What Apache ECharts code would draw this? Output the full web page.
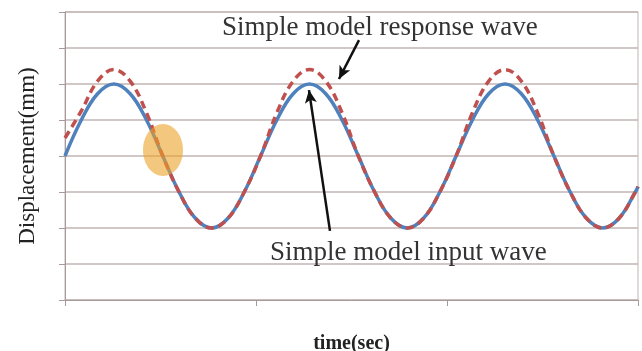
<!DOCTYPE html>
<html>
<head>
<meta charset="utf-8">
<script src="https://cdn.jsdelivr.net/npm/echarts@6/dist/echarts.min.js"></script>
<style>
  html, body { margin: 0; padding: 0; background: #ffffff; }
  #chart { width: 642px; height: 351px; }
</style>
</head>
<body>
<div id="chart"></div>
<script>
// Sample times (sec), one sample every 30 degrees of the 1.2 s cycle
var time = [0, 0.1, 0.2, 0.3, 0.4, 0.5, 0.6, 0.7, 0.8, 0.9, 1.0, 1.1,
            1.2, 1.3, 1.4, 1.5, 1.6, 1.7, 1.8, 1.9, 2.0, 2.1, 2.2, 2.3,
            2.4, 2.5, 2.6, 2.7, 2.8, 2.9, 3.0, 3.1, 3.2, 3.3, 3.4, 3.5, 3.516];

// Input displacement (mm)
var inputWave = [0, 1, 1.73, 2, 1.73, 1, 0, -1, -1.73, -2, -1.73, -1,
                 0, 1, 1.73, 2, 1.73, 1, 0, -1, -1.73, -2, -1.73, -1,
                 0, 1, 1.73, 2, 1.73, 1, 0, -1, -1.73, -2, -1.73, -1, -0.85];

// Response displacement (mm)
var responseWave = [0.5, 1.25, 2.08, 2.4, 2.08, 1.2, 0, -1, -1.73, -2, -1.73, -1,
                    0, 1.2, 2.08, 2.4, 2.08, 1.2, 0, -1, -1.73, -2, -1.73, -1,
                    0, 1.2, 2.08, 2.4, 2.08, 1.2, 0, -1, -1.73, -2, -1.73, -1, -0.85];

var yMin = -4, yMax = 4, yStep = 1;
var xMin = 0, xMax = 3.516, xStep = 1.172;

function pairs(xs, ys) {
  return xs.map(function (x, i) { return [x, ys[i]]; });
}

var chart = echarts.init(document.getElementById('chart'), null, { renderer: 'canvas' });

var serif = '"Liberation Serif", "DejaVu Serif", serif';
var gridColor = '#c3b4b4';
var axisColor = '#a89a9a';

chart.setOption({
  backgroundColor: '#ffffff',
  animation: false,
  grid: {
    left: 65, right: 4, top: 12, bottom: 51,
    containLabel: false,
    outerBoundsMode: 'none',
    show: true, borderColor: gridColor, borderWidth: 1
  },
  xAxis: {
    type: 'value',
    min: xMin, max: xMax, interval: xStep,
    name: 'time(sec)',
    nameLocation: 'middle',
    nameGap: 34,
    nameTextStyle: { fontFamily: serif, fontSize: 20, fontWeight: 'bold', color: '#222' },
    axisLine: { show: true, onZero: false, lineStyle: { color: axisColor, width: 1 } },
    axisTick: { show: true, length: 6, lineStyle: { color: axisColor } },
    axisLabel: { show: false },
    splitLine: { show: false }
  },
  yAxis: {
    type: 'value',
    min: yMin, max: yMax, interval: yStep,
    name: 'Displacement(mm)',
    nameLocation: 'middle',
    nameGap: 26,
    nameRotate: 90,
    nameTextStyle: { fontFamily: serif, fontSize: 23, color: '#222' },
    axisLine: { show: true, onZero: false, lineStyle: { color: axisColor, width: 1 } },
    axisTick: { show: true, length: 6, lineStyle: { color: axisColor } },
    axisLabel: { show: false },
    splitLine: { show: true, lineStyle: { color: gridColor, width: 1.5 } }
  },
  series: [
    {
      name: 'Simple model input wave',
      type: 'line',
      data: pairs(time, inputWave),
      smooth: 0.4,
      symbol: 'none',
      z: 3,
      lineStyle: { color: '#4f81bd', width: 3.5 },
      markLine: {
        silent: true,
        symbol: ['none', 'arrow'],
        symbolSize: [9, 13],
        label: { show: false },
        lineStyle: { color: '#111', width: 2.5, type: 'solid' },
        data: [
          [{ coord: [1.626, -2.08] }, { coord: [1.497, 1.83] }]
        ]
      }
    },
    {
      name: 'Simple model response wave',
      type: 'line',
      data: pairs(time, responseWave),
      smooth: 0.4,
      symbol: 'none',
      z: 4,
      lineStyle: { color: '#c0504d', width: 3.5, type: [8, 5] },
      markLine: {
        silent: true,
        symbol: ['none', 'arrow'],
        symbolSize: [9, 13],
        label: { show: false },
        lineStyle: { color: '#111', width: 2.5, type: 'solid' },
        data: [
          [{ coord: [1.804, 3.22] }, { coord: [1.681, 2.14] }]
        ]
      }
    }
  ],
  graphic: [
    {
      type: 'ellipse',
      shape: { cx: 163, cy: 150, rx: 20, ry: 26 },
      style: { fill: 'rgba(237,162,40,0.6)' },
      z: 10
    },
    {
      type: 'text',
      left: 222, top: 14,
      style: { text: 'Simple model response wave', font: '27px ' + serif, fill: '#333' },
      z: 10
    },
    {
      type: 'text',
      left: 270, top: 239,
      style: { text: 'Simple model input wave', font: '27px ' + serif, fill: '#333' },
      z: 10
    }
  ]
});
</script>
</body>
</html>
